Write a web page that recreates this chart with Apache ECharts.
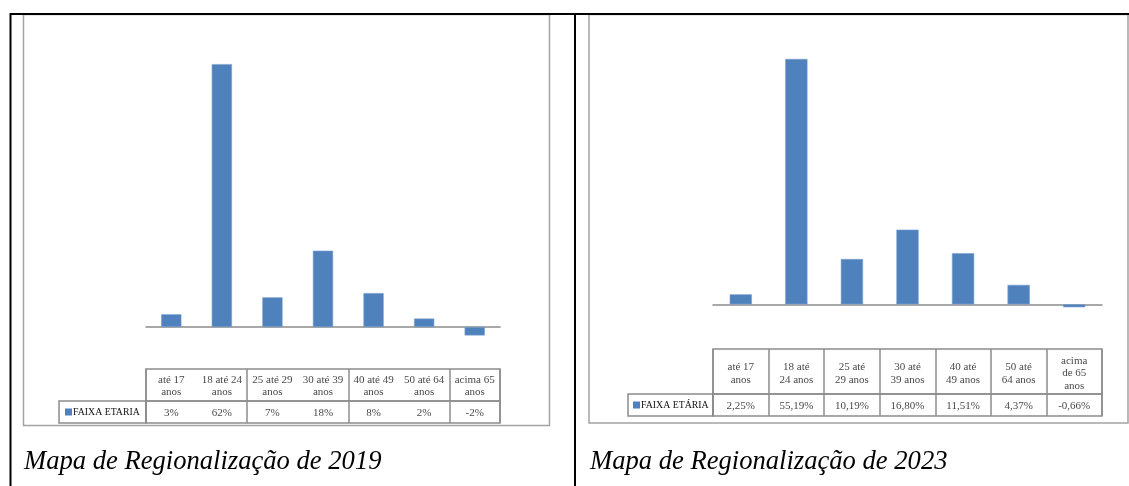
<!DOCTYPE html>
<html><head><meta charset="utf-8">
<script src="https://cdn.jsdelivr.net/npm/echarts@6/dist/echarts.min.js"></script>
<style>html,body{margin:0;padding:0;background:#fff}#c{width:1129px;height:486px}</style>
</head><body><div id="c"></div>
<script>
// ---- data ----
const categories2019 = ['até 17\nanos','18 até 24\nanos','25 até 29\nanos','30 até 39\nanos','40 até 49\nanos','50 até 64\nanos','acima 65\nanos'];
const values2019 = [3, 62, 7, 18, 8, 2, -2];
const seriesName2019 = 'FAIXA ETARIA';

const categories2023 = ['até 17\nanos','18 até\n24 anos','25 até\n29 anos','30 até\n39 anos','40 até\n49 anos','50 até\n64 anos','acima\nde 65\nanos'];
const values2023 = [2.25, 55.19, 10.19, 16.80, 11.51, 4.37, -0.66];
const seriesName2023 = 'FAIXA ETÁRIA';

const captions = ['Mapa de Regionalização de 2019', 'Mapa de Regionalização de 2023'];

const fmt2019 = v => v + '%';
const fmt2023 = v => v.toFixed(2).replace('.', ',') + '%';

// ---- styles ----
const BLUE = '#4f81bd';
const GRID_LINE = '#8c8c8c';
const FRAME = '#a3a3a3';
const SERIF = "'Liberation Serif', 'Times New Roman', serif";

const chart = echarts.init(document.getElementById('c'), null, {renderer: 'canvas'});

function panel(cfg) {
  const L = cfg.layout;
  const base = cfg.gridBase;
  const grids = [
    {left: L.left, width: L.width, top: L.barTop, height: L.barHeight, show: false},
    {left: L.left, width: L.width, top: L.headTop, height: L.headHeight, show: true, borderColor: GRID_LINE, borderWidth: 1.5},
    {left: L.left, width: L.width, top: L.valTop, height: L.valHeight, show: true, borderColor: GRID_LINE, borderWidth: 1.5}
  ];
  const xAxes = [
    {gridIndex: base, type: 'category', data: cfg.categories,
     axisLine: {show: true, onZero: true, lineStyle: {color: GRID_LINE, width: 1.5}},
     axisTick: {show: false}, axisLabel: {show: false}, splitLine: {show: false}},
    {gridIndex: base + 1, type: 'category', data: cfg.categories,
     axisLine: {show: false}, axisTick: {show: false}, axisLabel: {show: false},
     splitLine: {show: true, lineStyle: {color: GRID_LINE, width: 1.5}}},
    {gridIndex: base + 2, type: 'category', data: cfg.categories,
     axisLine: {show: false}, axisTick: {show: false}, axisLabel: {show: false},
     splitLine: {show: true, lineStyle: {color: GRID_LINE, width: 1.5}}}
  ];
  const yAxes = [
    {gridIndex: base, type: 'value', min: L.yMin, max: L.yMax, show: false},
    {gridIndex: base + 1, type: 'value', min: 0, max: 1, show: false},
    {gridIndex: base + 2, type: 'category', data: [cfg.name],
     axisLine: {show: false}, axisTick: {show: false}, splitLine: {show: false},
     axisLabel: {
       show: true, margin: 0, align: 'right', verticalAlign: 'middle',
       width: L.legendWidth - L.legendPad, lineHeight: L.valHeight, padding: [0, 0, 0, L.legendPad],
       borderColor: GRID_LINE, borderWidth: 1.5,
       formatter: v => '{m|}{t|' + v + '}',
       rich: {
         m: {width: 7, height: 7, backgroundColor: BLUE, align: 'left', verticalAlign: 'middle'},
         t: {fontFamily: SERIF, fontSize: 9.8, lineHeight: L.valHeight, color: '#111', align: 'left', verticalAlign: 'middle', padding: [0, 0, 0, 1]}
       }
     }}
  ];
  const labelStyle = {show: true, position: 'inside', fontFamily: SERIF, fontSize: 11, lineHeight: 12.7, color: '#111'};
  const series = [
    {type: 'bar', xAxisIndex: base, yAxisIndex: base, name: cfg.name, data: cfg.values,
     barWidth: '40%', itemStyle: {color: BLUE, borderColor: '#7a9fcf', borderWidth: 0.6}, silent: true},
    {type: 'scatter', xAxisIndex: base + 1, yAxisIndex: base + 1, symbolSize: 1, silent: true,
     itemStyle: {color: 'rgba(0,0,0,0)'},
     data: cfg.categories.map((c, i) => [i, 0.5]),
     label: Object.assign({}, labelStyle, {offset: [0, L.headOffset], formatter: p => cfg.categories[p.dataIndex]})},
    {type: 'scatter', xAxisIndex: base + 2, yAxisIndex: base + 2, symbolSize: 1, silent: true,
     itemStyle: {color: 'rgba(0,0,0,0)'},
     data: cfg.values.map((v, i) => [i, 0]),
     label: Object.assign({}, labelStyle, {offset: [0, 1], formatter: p => cfg.fmt(cfg.values[p.dataIndex])})}
  ];
  return {grids, xAxes, yAxes, series};
}

const p1 = panel({
  categories: categories2019, values: values2019, name: seriesName2019, fmt: fmt2019, gridBase: 0,
  layout: {left: 146, width: 354, barTop: 30.2, barHeight: 339.2, yMin: -10, yMax: 70,
           headTop: 369, headHeight: 32, valTop: 401, valHeight: 22, headOffset: 1,
           legendWidth: 87, legendPad: 6}
});
const p2 = panel({
  categories: categories2023, values: values2023, name: seriesName2023, fmt: fmt2023, gridBase: 3,
  layout: {left: 713, width: 389, barTop: 37.6, barHeight: 311.2, yMin: -10, yMax: 60,
           headTop: 349, headHeight: 45, valTop: 394, valHeight: 22, headOffset: 2,
           legendWidth: 85, legendPad: 5}
});

const captionStyle = {fontFamily: SERIF, fontStyle: 'italic', fontWeight: 'normal', fontSize: 26.6, color: '#000'};
const option = {
  animation: false,
  backgroundColor: '#ffffff',
  title: [
    {text: captions[0], left: 24, top: 448.5, textStyle: captionStyle, padding: 0},
    {text: captions[1], left: 590, top: 448.5, textStyle: captionStyle, padding: 0}
  ],
  grid: p1.grids.concat(p2.grids),
  xAxis: p1.xAxes.concat(p2.xAxes),
  yAxis: p1.yAxes.concat(p2.yAxes),
  series: p1.series.concat(p2.series),
  graphic: [
    {type: 'rect', silent: true, z: -1, shape: {x: 23.5, y: 14.5, width: 526, height: 411}, style: {fill: 'none', stroke: FRAME, lineWidth: 1.5}},
    {type: 'rect', silent: true, z: -1, shape: {x: 589, y: 14.5, width: 539, height: 408.5}, style: {fill: 'none', stroke: FRAME, lineWidth: 1.5}},
    {type: 'line', silent: true, shape: {x1: 10, y1: 14, x2: 1129, y2: 14}, style: {stroke: '#000', lineWidth: 2}},
    {type: 'line', silent: true, shape: {x1: 10.5, y1: 13, x2: 10.5, y2: 486}, style: {stroke: '#000', lineWidth: 2}},
    {type: 'line', silent: true, shape: {x1: 575, y1: 13, x2: 575, y2: 486}, style: {stroke: '#000', lineWidth: 2}}
  ]
};
chart.setOption(option);
</script>
</body></html>
